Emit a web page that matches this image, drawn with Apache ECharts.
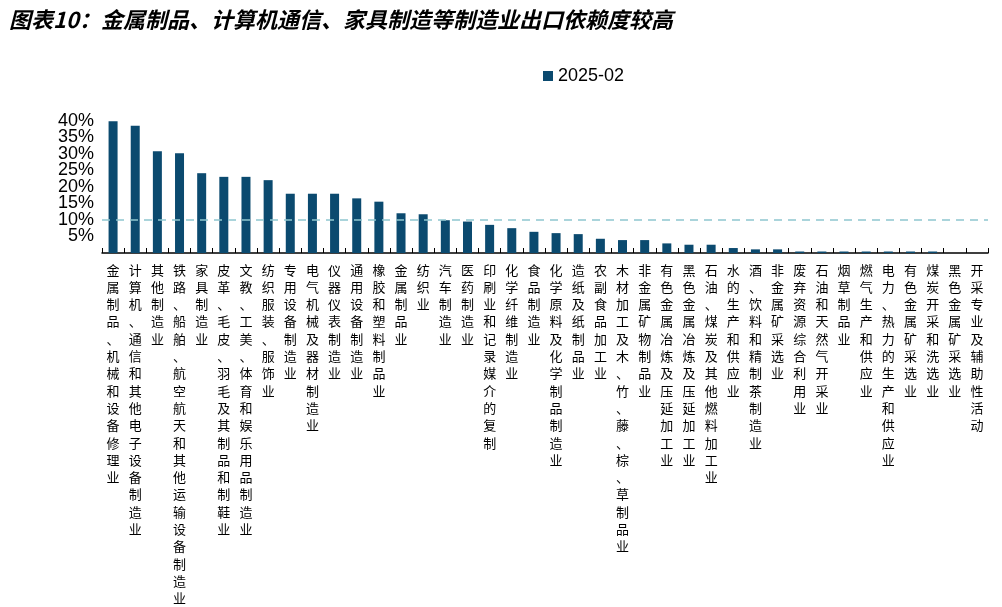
<!DOCTYPE html>
<html><head><meta charset="utf-8">
<script src="https://cdn.jsdelivr.net/npm/echarts@6/dist/echarts.min.js"></script>
<style>html,body{margin:0;padding:0;background:#fff}#c{width:1002px;height:607px}</style>
</head><body><div id="c"></div>
<script>
const categories = ["金属制品、机械和设备修理业","计算机、通信和其他电子设备制造业","其他制造业","铁路、船舶、航空航天和其他运输设备制造业","家具制造业","皮革、毛皮、羽毛及其制品和制鞋业","文教、工美、体育和娱乐用品制造业","纺织服装、服饰业","专用设备制造业","电气机械及器材制造业","仪器仪表制造业","通用设备制造业","橡胶和塑料制品业","金属制品业","纺织业","汽车制造业","医药制造业","印刷业和记录媒介的复制","化学纤维制造业","食品制造业","化学原料及化学制品制造业","造纸及纸制品业","农副食品加工业","木材加工及木、竹、藤、棕、草制品业","非金属矿物制品业","有色金属冶炼及压延加工业","黑色金属冶炼及压延加工业","石油、煤炭及其他燃料加工业","水的生产和供应业","酒、饮料和精制茶制造业","非金属矿采选业","废弃资源综合利用业","石油和天然气开采业","烟草制品业","燃气生产和供应业","电力、热力的生产和供应业","有色金属矿采选业","煤炭开采和洗选业","黑色金属矿采选业","开采专业及辅助性活动"];
const values = [39.8,38.4,30.7,30.1,24.1,23.0,23.0,22.0,17.9,17.9,17.9,16.5,15.5,12.0,11.7,9.9,9.5,8.5,7.5,6.4,6.0,5.7,4.3,3.9,3.9,2.9,2.5,2.5,1.5,1.1,1.1,0.45,0.45,0.45,0.45,0.45,0.45,0.45,0,0];
const seriesName = "2025-02";
const refLine = 10;
const chart = echarts.init(document.getElementById('c'));
chart.setOption({
  animation:false,
  title:{text:"图表10：金属制品、计算机通信、家具制造等制造业出口依赖度较高",left:4,top:4,
    textStyle:{fontFamily:"Noto Sans CJK SC",fontSize:22,fontWeight:"bold",fontStyle:"italic",color:"#000"}},
  legend:{data:[seriesName],top:62,left:538,icon:"rect",itemWidth:10,itemHeight:10,
    textStyle:{fontFamily:"Arial, Liberation Sans",fontSize:18,color:"#000"}},
  grid:{left:102,right:14,top:104,bottom:235},
  xAxis:{type:"category",data:categories,
    axisLine:{lineStyle:{color:"#000",width:1.5}},
    axisTick:{show:true,lineStyle:{color:"#000"},length:5,inside:true},
    axisLabel:{interval:0,fontFamily:"Noto Sans CJK SC",fontSize:13,color:"#000",lineHeight:17.3,
      verticalAlign:"top",formatter:v=>v.split("").join("\n")}},
  yAxis:{type:"value",min:0,max:45,interval:5,
    axisLine:{show:false},axisTick:{show:false},splitLine:{show:false},
    axisLabel:{formatter:"{value}%",fontFamily:"Arial, Liberation Sans",fontSize:18,color:"#000"}},
  series:[{name:seriesName,type:"bar",data:values,barWidth:9,
    itemStyle:{color:"#0b4a6f"},
    markLine:{symbol:"none",silent:true,label:{show:false},
      lineStyle:{type:[8,6],color:"#8fc6cf",width:1.5},data:[{yAxis:refLine}]}}]
});
</script>
</body></html>
